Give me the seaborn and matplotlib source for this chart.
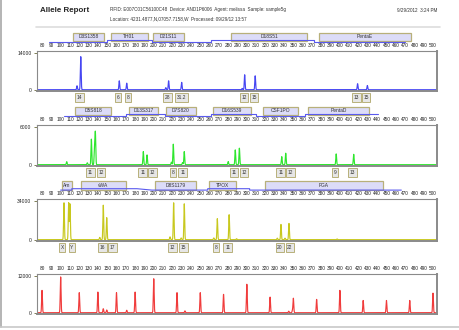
import numpy as np
import pandas as pd
import seaborn as sns
import matplotlib.pyplot as plt
from matplotlib.patches import Rectangle
from matplotlib.lines import Line2D
from matplotlib.transforms import blended_transform_factory

W, H = 460, 330

# --- panel 1: blue dye ---
blue_pos = [117.6, 121.6, 163, 171, 213, 216, 230, 295, 297.7, 309, 419, 429.5]
blue_rfu = [1500, 12600, 3400, 2500, 800, 3400, 2800, 500, 5700, 5300, 2300, 1600]
blue_loci = ['D3S1358', 'TH01', 'D21S11', 'D18S51', 'PentaE']
blue_box_lo = [113, 154, 199, 282.7, 377.5]
blue_box_hi = [146.8, 193.5, 233, 365, 476]
blue_rng = [(88, 150), (150, 198), (198, 262), (262, 372), (372, 470)]
blue_allele = ['14', '6', '8', '28', '31.2', '12', '15', '13', '15']
blue_allele_x = [120, 162, 172.7, 214.6, 229.6, 297, 307.7, 418, 428]

# --- panel 2: green dye ---
green_pos = [106.5, 128.6, 133, 136.4, 137.3, 188.8, 192.8, 219, 221, 231, 232.8,
             280, 287.6, 292, 337.5, 341.8, 396, 414.8]
green_rfu = [480, 300, 4075, 2800, 5040, 2085, 1560, 400, 3270, 350, 2085,
             500, 2360, 2630, 1280, 1830, 1720, 1650]
green_loci = ['D5S818', 'D13S317', 'D7S820', 'D16S539', 'CSF1PO', 'PentaD']
green_box_lo = [115.8, 173, 213, 264, 317.7, 365.4]
green_box_hi = [153.8, 205, 245, 304, 354.6, 431.6]
green_rng = [(104, 170), (170, 212), (212, 262), (262, 310), (310, 362), (362, 441)]
green_allele = ['11', '12', '11', '12', '8', '11', '11', '12', '11', '12', '9', '13']
green_allele_x = [131.9, 143.4, 188.2, 198.9, 220.4, 231.1, 286.2, 297, 336.4, 347.1, 395, 413.7]

# --- panel 3: yellow dye ---
yellow_pos = [103.6, 108.6, 110, 142, 145.8, 149.5, 217.5, 221.4, 229.5, 232.8,
              264.5, 268.3, 281, 289, 332.7, 336.7, 341, 345.3, 397]
yellow_rfu = [32500, 32500, 31500, 2000, 30400, 19400, 2500, 32500, 1500, 31600,
              1500, 18500, 22000, 800, 1300, 13400, 1300, 14300, 600]
yellow_loci = ['Am', 'vWA', 'D8S1179', 'TPOX', 'FGA']
yellow_box_lo = [101.3, 121.6, 201.4, 259.7, 319.5]
yellow_box_hi = [111.9, 169.9, 245.4, 288.4, 446]
yellow_rng = [(100, 112), (112, 182), (198, 258), (258, 303), (303, 466)]
yellow_allele = ['X', 'Y', '16', '17', '12', '15', '8', '11', '20', '22']
yellow_allele_x = [101.5, 112.2, 145.2, 155.9, 220.4, 231.8, 266.9, 279.5, 335.6, 346.4]

# --- panel 4: red size standard ---
red_pos = [80, 100, 120, 140, 145.8, 149.5, 160, 171, 180, 200, 225, 233.5, 250, 275,
           300, 325, 345, 349, 350, 375, 400, 425, 450, 475, 500]
red_rfu = [7300, 11700, 6550, 6750, 1300, 900, 6550, 800, 6750, 11100, 6550, 600, 6550, 6000,
           9300, 5100, 500, 700, 4700, 4350, 7300, 4000, 4000, 4000, 6400]

panels = [
    dict(pos=blue_pos, rfu=blue_rfu, color='#4646f2', ymax=14000, top=51, bot=91, box_top=32.5,
         loci=blue_loci, lo=blue_box_lo, hi=blue_box_hi, rng=blue_rng,
         allele=blue_allele, allele_x=blue_allele_x),
    dict(pos=green_pos, rfu=green_rfu, color='#2ee62e', ymax=6000, top=125, bot=166, box_top=106.5,
         loci=green_loci, lo=green_box_lo, hi=green_box_hi, rng=green_rng,
         allele=green_allele, allele_x=green_allele_x),
    dict(pos=yellow_pos, rfu=yellow_rfu, color='#c8c81e', ymax=34000, top=199, bot=241, box_top=181,
         loci=yellow_loci, lo=yellow_box_lo, hi=yellow_box_hi, rng=yellow_rng,
         allele=yellow_allele, allele_x=yellow_allele_x),
    dict(pos=red_pos, rfu=red_rfu, color='#f03c3c', ymax=12000, top=274, bot=314, box_top=None,
         loci=[], lo=[], hi=[], rng=[], allele=[], allele_x=[]),
]

sns.set_style('white')
plt.rcParams['font.family'] = ['Liberation Sans', 'DejaVu Sans']

fig = plt.figure(figsize=(W / 100, H / 100), dpi=100)
grid = np.arange(75, 505, 0.1)
edge = '#b8b07a'

for p in panels:
    ax = fig.add_axes([37 / W, 1 - p['bot'] / H, 400 / W, (p['bot'] - p['top']) / H])
    # trace = sum of narrow peaks at the listed sizes
    y = np.zeros_like(grid)
    for x0, h in zip(p['pos'], p['rfu']):
        y += h * np.exp(-0.5 * ((grid - x0) / 0.42) ** 2)
    df = pd.DataFrame({'size': grid, 'rfu': y})
    sns.lineplot(data=df, x='size', y='rfu', ax=ax, color=p['color'], linewidth=0.85, estimator=None)
    ax.set_xlim(74.6, 504.3)
    ax.set_ylim(-0.035 * p['ymax'], 1.055 * p['ymax'])
    ax.set_xlabel('')
    ax.set_ylabel('')
    ax.xaxis.tick_top()
    ax.set_xticks(np.arange(80, 501, 10))
    ax.tick_params(axis='x', length=0, labelsize=3.4, pad=2, colors='#222222')
    ax.set_yticks([0, p['ymax']])
    ax.set_yticklabels(['0', str(p['ymax'])])
    ax.tick_params(axis='y', left=True, length=2.5, width=0.6, color='#6b6b3a',
                   labelsize=3.6, pad=1.5, labelcolor='#222222')
    for side, s in ax.spines.items():
        s.set_color('#8a8a8a')
        s.set_linewidth(1.4 if side in ('right', 'bottom') else 0.8)

    tr = blended_transform_factory(ax.transData, fig.transFigure)
    if p['box_top'] is not None:
        bt = p['box_top']
        bb = bt + 8.5
        # stepped range line under locus boxes
        xs, ys = [], []
        for i, (a, b) in enumerate(p['rng']):
            lev = bb + 0.6 if i % 2 == 0 else bb - 0.8
            xs += [a, b]
            ys += [1 - lev / H, 1 - lev / H]
        ax.plot(xs, ys, transform=tr, color='#5a5aee', lw=0.8, clip_on=False)
        for name, a, b in zip(p['loci'], p['lo'], p['hi']):
            ax.add_patch(Rectangle((a, 1 - bb / H), b - a, 8.5 / H, transform=tr, clip_on=False,
                                   facecolor='#dcdcf8', edgecolor=edge, linewidth=0.9))
            ax.text((a + b) / 2, 1 - (bt + 4.3) / H, name, transform=tr, ha='center', va='center',
                    fontsize=3.5, color='#333333')
        for lab, x0 in zip(p['allele'], p['allele_x']):
            ax.text(x0, 1 - (p['bot'] + 6.3) / H, lab, transform=tr, ha='center', va='center',
                    fontsize=3.5, color='#333333',
                    bbox=dict(boxstyle='square,pad=0.35', fc='#e6e6e6', ec=edge, lw=0.7))

# header
fig.text(40 / W, 1 - 10 / H, 'Allele Report', fontsize=5.8, fontweight='bold', va='center', ha='left')
fig.text(110 / W, 1 - 9.5 / H,
         'RFID: E007C01C56100C48  Device: AND1P6006  Agent: melissa  Sample: sample5g',
         fontsize=3.3, va='center', ha='left', color='#333333')
fig.text(110 / W, 1 - 19 / H, 'Location: 4231.4877,N,07057.7158,W  Processed: 09/29/12 13:57',
         fontsize=3.3, va='center', ha='left', color='#333333')
fig.text(437 / W, 1 - 10 / H, '9/29/2012  3:24 PM', fontsize=3.3, va='center', ha='right', color='#333333')
fig.add_artist(Line2D([36 / W, 440 / W], [1 - 27 / H] * 2, color='#dddddd', lw=1.2))
fig.add_artist(Line2D([1.5 / W, 1.5 / W], [1 - 326.5 / H, 1], color='#a8a8a8', lw=1.2))
fig.add_artist(Line2D([0, 1], [1 - 326.5 / H] * 2, color='#c8c8c8', lw=1.2))

fig.savefig('out.png', dpi=100)
